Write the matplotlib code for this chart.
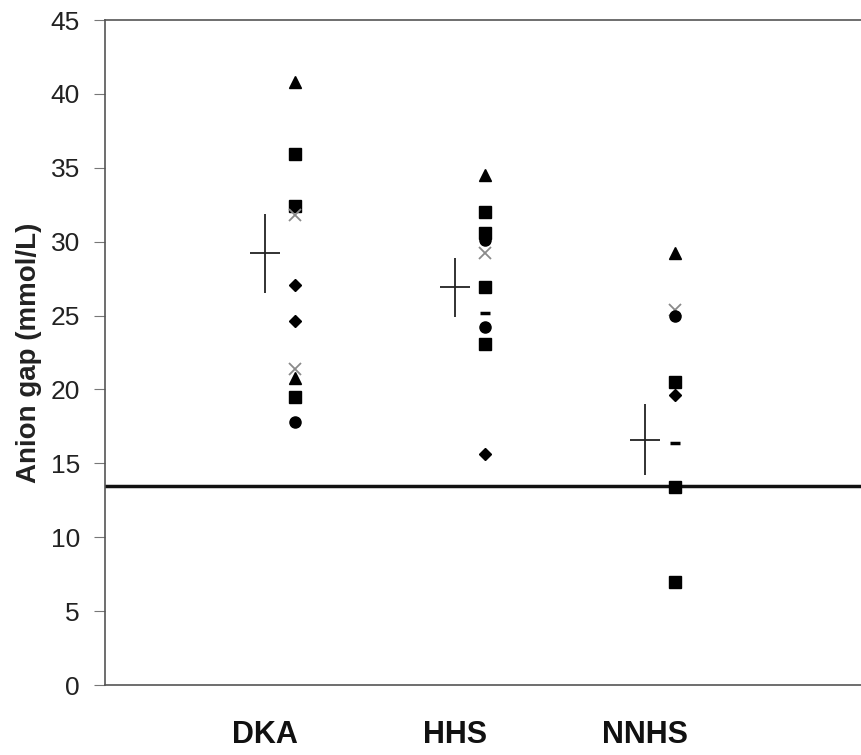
import matplotlib
matplotlib.use("Agg")
import matplotlib.pyplot as plt

plt.rcParams['font.family'] = ['Liberation Sans', 'DejaVu Sans']

categories = ["DKA", "HHS", "NNHS"]

dka_values = [40.8, 35.9, 32.4, 31.8, 27.1, 24.6, 21.4, 20.8, 19.5, 17.8]
dka_markers = ["^", "s", "s", "x", "D", "D", "x", "^", "s", "o"]

hhs_values = [34.5, 32.0, 30.6, 30.1, 29.2, 26.9, 25.2, 24.2, 23.1, 15.6]
hhs_markers = ["^", "s", "s", "o", "x", "s", "_", "o", "s", "D"]

nnhs_values = [29.2, 25.4, 25.0, 20.5, 19.6, 16.4, 13.4, 7.0]
nnhs_markers = ["^", "x", "o", "s", "D", "_", "s", "s"]

means = [29.2, 26.9, 16.6]
sds = [2.7, 2.0, 2.4]

reference_line = 13.5

group_values = [dka_values, hhs_values, nnhs_values]
group_markers = [dka_markers, hhs_markers, nnhs_markers]

marker_style = {
    "^": dict(ms=9, color="black"),
    "s": dict(ms=8, color="black"),
    "o": dict(ms=8, color="black"),
    "D": dict(ms=6, color="black"),
    "x": dict(ms=8, color="#8a8a8a", mew=1.3),
    "_": dict(ms=7, color="black", mew=2.5),
}

fig = plt.figure(figsize=(8.61, 7.55), dpi=100)
ax = fig.add_axes([0.122, 0.0927, 0.878, 0.8808])

offset = 0.16
for i, (vals, mks) in enumerate(zip(group_values, group_markers)):
    xpos = i + 1 + offset
    for v, m in zip(vals, mks):
        ax.plot([xpos], [v], linestyle="none", marker=m, **marker_style[m])

xs = [i + 1 for i in range(len(categories))]
ax.errorbar(xs, means, yerr=sds, xerr=0.08, fmt="none", ecolor="#222222",
            elinewidth=1.3, capsize=0)

ax.axhline(reference_line, color="#111111", linewidth=2.5, zorder=1)

ax.set_xlim(0.158, 4.137)
ax.set_ylim(0, 45)
ax.set_yticks(range(0, 46, 5))
ax.set_xticks([])
ax.tick_params(axis="y", labelsize=19, length=8, width=0.8, color="#777777",
               direction="out", pad=10, labelcolor="#222222")

for s in ["left", "top", "bottom"]:
    ax.spines[s].set_color("#555555")
    ax.spines[s].set_linewidth(1.2)
ax.spines["right"].set_visible(False)

ax.set_ylabel("Anion gap (mmol/L)", fontsize=20, fontweight="bold",
              color="#222222", labelpad=6)

for x, c in zip(xs, categories):
    ax.text(x, -0.075, c, transform=ax.get_xaxis_transform(), ha="center",
            va="center", fontsize=22, fontweight="bold", color="#111111")

fig.savefig("out.png", dpi=100)
